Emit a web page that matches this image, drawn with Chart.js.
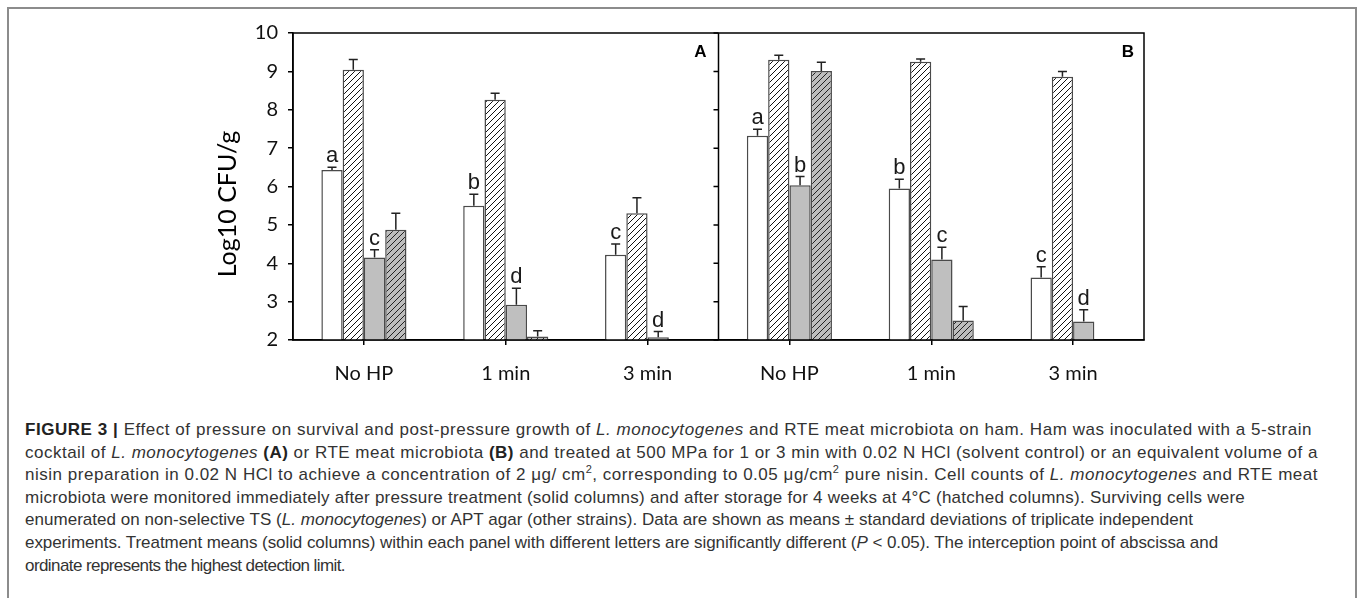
<!DOCTYPE html>
<html>
<head>
<meta charset="utf-8">
<script src="https://cdn.jsdelivr.net/npm/chart.js@4.4.1/dist/chart.umd.min.js"></script>
<style>
  body { margin: 0; background: #fff; }
  #frame { position: absolute; left: 7px; top: 7px; width: 1346px; height: 600px; border: 2px solid #8c8c8c; }
  #chart { position: absolute; left: 0; top: 0; }
  #caption { position: absolute; left: 25px; top: 419px; font-family: "Liberation Sans", Arial, sans-serif;
             font-size: 17px; line-height: 22.6px; color: #333; white-space: nowrap; }
  #caption div { display: table; }
  #caption b { color: #222; }
  #caption sup { font-size: 11px; line-height: 0; }
</style>
</head>
<body>
<div id="frame"></div>
<canvas id="chart" width="1358" height="400"></canvas>
<div id="caption">
<div><b>FIGURE 3 |</b> Effect of pressure on survival and post-pressure growth of <i>L. monocytogenes</i> and RTE meat microbiota on ham. Ham was inoculated with a 5-strain</div>
<div>cocktail of <i>L. monocytogenes</i>&nbsp;<b>(A)</b> or RTE meat microbiota <b>(B)</b> and treated at 500 MPa for 1 or 3 min with 0.02 N HCl (solvent control) or an equivalent volume of a</div>
<div>nisin preparation in 0.02 N HCl to achieve a concentration of 2 μg/ cm<sup>2</sup>, corresponding to 0.05 μg/cm<sup>2</sup> pure nisin. Cell counts of <i>L. monocytogenes</i> and RTE meat</div>
<div>microbiota were monitored immediately after pressure treatment (solid columns) and after storage for 4 weeks at 4°C (hatched columns). Surviving cells were</div>
<div>enumerated on non-selective TS (<i>L. monocytogenes</i>) or APT agar (other strains). Data are shown as means ± standard deviations of triplicate independent</div>
<div>experiments. Treatment means (solid columns) within each panel with different letters are significantly different (<i>P</i> &lt; 0.05). The interception point of abscissa and</div>
<div>ordinate represents the highest detection limit.</div>
</div>
<script>
// panel A (L. monocytogenes) then panel B (RTE meat microbiota)
var categories = ["No HP", "1 min", "3 min", "No HP", "1 min", "3 min"];
var panels = ["A", "B"];

var solidCtrl      = [6.43, 5.50, 4.22, 7.32, 5.95, 3.63];
var solidCtrlSd    = [0.07, 0.30, 0.28, 0.17, 0.24, 0.28];
var storedCtrl     = [9.04, 8.26, 5.30, 9.30, 9.25, 8.86];
var storedCtrlSd   = [0.27, 0.17, 0.41, 0.12, 0.07, 0.14];
var solidNisin     = [4.15, 2.92, 2.07, 6.03, 4.10, 2.48];
var solidNisinSd   = [0.20, 0.43, 0.15, 0.23, 0.32, 0.31];
var storedNisin    = [4.87, 2.09, null, 9.01, 2.51, null];
var storedNisinSd  = [0.43, 0.15, null, 0.23, 0.36, null];

var ctrlLetters  = ["a", "b", "c", "a", "b", "c"];
var nisinLetters = ["c", "d", "d", "b", "c", "d"];

var yTicks = [2, 3, 4, 5, 6, 7, 8, 9, 10];

// right edge of each caption line in the figure
var captionEnds = [1312, 1318, 1318, 1245, 1193, 1218, 345];
var lines = document.querySelectorAll("#caption div");
lines.forEach(function(d, i) {
	var w = d.getBoundingClientRect().width;
	var n = d.textContent.length;
	var extra = (captionEnds[i] - 25 - w) / n;
	d.style.letterSpacing = extra.toFixed(3) + "px";
});

function hatch(bg, fg) {
	var c = document.createElement("canvas");
	c.width = 6; c.height = 6;
	var g = c.getContext("2d");
	g.fillStyle = bg;
	g.fillRect(0, 0, 6, 6);
	g.strokeStyle = fg;
	g.lineWidth = 1;
	g.beginPath();
	g.moveTo(0, 6); g.lineTo(6, 0);
	g.moveTo(-1, 1); g.lineTo(1, -1);
	g.moveTo(5, 7); g.lineTo(7, 5);
	g.stroke();
	return g.createPattern(c, "repeat");
}

var sds = [solidCtrlSd, storedCtrlSd, solidNisinSd, storedNisinSd];
var letters = [ctrlLetters, null, nisinLetters, null];

var extras = {
	id: "extras",
	afterDatasetsDraw: function(chart) {
		var ctx = chart.ctx, a = chart.chartArea, y = chart.scales.y;
		ctx.save();
		// error bars
		ctx.strokeStyle = "#222";
		ctx.lineWidth = 1.5;
		chart.data.datasets.forEach(function(ds, i) {
			var meta = chart.getDatasetMeta(i);
			meta.data.forEach(function(el, j) {
				var v = ds.data[j];
				if (v == null) return;
				var top = y.getPixelForValue(v + sds[i][j]);
				ctx.beginPath();
				ctx.moveTo(el.x, el.y);
				ctx.lineTo(el.x, top);
				ctx.moveTo(el.x - 4.5, top);
				ctx.lineTo(el.x + 4.5, top);
				ctx.stroke();
				if (letters[i]) {
					ctx.fillStyle = "#1a1a1a";
					ctx.font = "22px 'Liberation Sans', Arial, sans-serif";
					ctx.textAlign = "center";
					ctx.textBaseline = "alphabetic";
					ctx.fillText(letters[i][j], el.x, top - 5);
				}
			});
		});
		// plot box and panel divider
		var mid = (a.left + a.right) / 2;
		ctx.strokeStyle = "#000";
		ctx.lineWidth = 1.5;
		ctx.strokeRect(a.left, a.top, a.right - a.left, a.bottom - a.top);
		ctx.beginPath();
		ctx.moveTo(mid, a.top);
		ctx.lineTo(mid, a.bottom);
		yTicks.forEach(function(t) {
			var py = y.getPixelForValue(t);
			ctx.moveTo(mid - 5, py);
			ctx.lineTo(mid, py);
		});
		ctx.stroke();
		// panel letters
		ctx.fillStyle = "#000";
		ctx.font = "bold 17px 'Liberation Sans', Arial, sans-serif";
		ctx.textAlign = "right";
		ctx.textBaseline = "top";
		ctx.fillText(panels[0], mid - 12, a.top + 11);
		ctx.fillText(panels[1], a.right - 10, a.top + 11);
		// y axis title
		ctx.translate(228, 204);
		ctx.rotate(-Math.PI / 2);
		ctx.font = "25px Lato, sans-serif";
		ctx.textAlign = "center";
		ctx.textBaseline = "middle";
		ctx.fillText("Log10 CFU/g", 0, 0);
		ctx.restore();
	}
};

var border = "#4a4a4a";

new Chart(document.getElementById("chart"), {
	type: "bar",
	data: {
		labels: categories,
		datasets: [
			{ data: solidCtrl, backgroundColor: "#ffffff", borderColor: border, borderWidth: 1.5 },
			{ data: storedCtrl, backgroundColor: hatch("#ffffff", "#111"), borderColor: border, borderWidth: 1.5 },
			{ data: solidNisin, backgroundColor: "#bfbfbf", borderColor: border, borderWidth: 1.5 },
			{ data: storedNisin, backgroundColor: hatch("#bdbdbd", "#222"), borderColor: border, borderWidth: 1.5 }
		]
	},
	options: {
		responsive: false,
		animation: false,
		categoryPercentage: 0.6,
		barPercentage: 1.0,
		layout: { padding: { left: 210, right: 214, top: 33, bottom: 0 } },
		plugins: { legend: { display: false }, tooltip: { enabled: false } },
		scales: {
			x: {
				grid: { drawOnChartArea: false, offset: false, tickLength: 5, color: "#000", lineWidth: 1.5 },
				border: { color: "#000", width: 1.5 },
				ticks: { color: "#111", padding: 17, font: { family: "Lato", size: 20 } },
				afterFit: function(s) { s.height = 60; }
			},
			y: {
				min: 2,
				max: 10,
				grid: { drawOnChartArea: false, tickLength: 5, color: "#000", lineWidth: 1.5 },
				border: { color: "#000", width: 1.5 },
				ticks: { stepSize: 1, color: "#111", padding: 10, font: { family: "Lato", size: 20 } },
				afterFit: function(s) { s.width = 83; }
			}
		}
	},
	plugins: [extras]
});
</script>
</body>
</html>
